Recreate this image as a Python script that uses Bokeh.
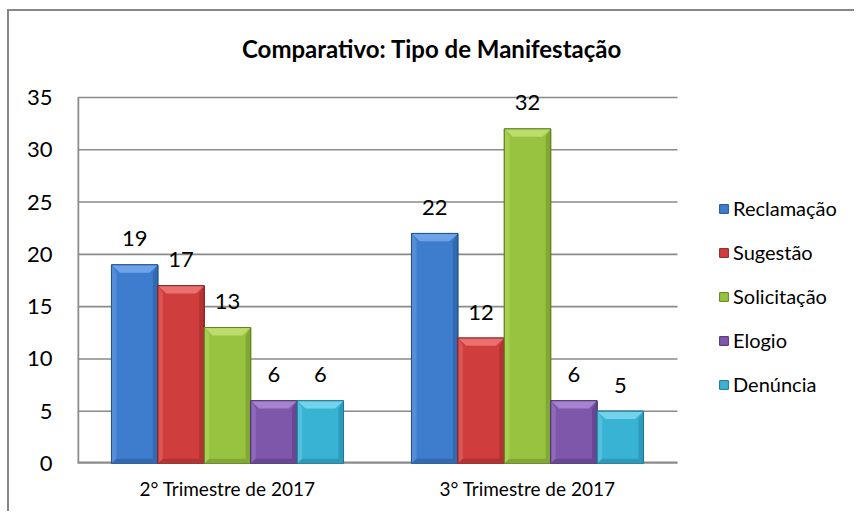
import numpy as np
from bokeh.plotting import figure
from bokeh.models import Range1d, Legend, LegendItem, FixedTicker, Label
from bokeh.core.properties import value
from bokeh.embed import file_html
from bokeh.resources import INLINE

# ---- data ----
categories = ["2° Trimestre de 2017", "3° Trimestre de 2017"]
series_names = ["Reclamação", "Sugestão", "Solicitação", "Elogio", "Denúncia"]
reclamacao = [19, 22]
sugestao = [17, 12]
solicitacao = [13, 32]
elogio = [6, 6]
denuncia = [6, 5]
y_ticks = [0, 5, 10, 15, 20, 25, 30, 35]
title_text = "Comparativo: Tipo de Manifestação"

series_values = [reclamacao, sugestao, solicitacao, elogio, denuncia]

# ---- styles ----
main_colors = ["#3e7dcd", "#d03d3d", "#98c340", "#7e56aa", "#39b3d4"]
light_colors = ["#6fa3e8", "#ea7070", "#bcdc6c", "#a583cf", "#74d3ec"]
dark_colors = ["#2b5d9f", "#a02b2b", "#72962a", "#5b3c83", "#2489a6"]
edge_colors = ["#24528d", "#8c2424", "#628223", "#4e3371", "#1f778f"]
FONT = "Lato"
GRID = "#8a8a8a"

W, H = 847, 502
LEFT, BOTTOM = 68, 50
PLOT_W, PLOT_H = 600, 366          # size of the drawing area for the categories / 0..35
frame_w, frame_h = W - LEFT, H - BOTTOM
n_cat = len(categories)
y_max = y_ticks[-1]
x_end = n_cat * frame_w / PLOT_W
y_end = y_max * frame_h / PLOT_H

p = figure(width=W, height=H,
           x_range=Range1d(0, x_end), y_range=Range1d(0, y_end),
           output_backend="svg", toolbar_location=None,
           min_border_left=LEFT, min_border_right=0,
           min_border_top=0, min_border_bottom=BOTTOM)
p.margin = (9, 0, 0, 7)
p.styles = {"border-top": "2px solid #878787", "border-left": "2px solid #878787"}
p.outline_line_color = None
p.background_fill_color = "white"
p.border_fill_color = "white"
p.xgrid.grid_line_color = None
p.ygrid.grid_line_color = None

# axes (library axes, lines drawn separately so they stop at the plot area)
p.yaxis.ticker = FixedTicker(ticks=y_ticks)
p.yaxis.major_tick_line_color = None
p.yaxis.minor_tick_line_color = None
p.yaxis.major_tick_out = 0
p.yaxis.major_tick_in = 0
p.yaxis.major_label_standoff = 25
p.yaxis.axis_line_color = None
p.yaxis.major_label_text_font = FONT
p.yaxis.major_label_text_font_size = "22px"
p.yaxis.major_label_text_color = "#000000"

cat_ticks = [i + 0.5 for i in range(n_cat)]
p.xaxis.ticker = FixedTicker(ticks=cat_ticks)
p.xaxis.major_label_overrides = {t: c for t, c in zip(cat_ticks, categories)}
p.xaxis.major_tick_line_color = None
p.xaxis.minor_tick_line_color = None
p.xaxis.major_tick_out = 0
p.xaxis.major_tick_in = 0
p.xaxis.major_label_standoff = 13
p.xaxis.axis_line_color = None
p.xaxis.major_label_text_font = FONT
p.xaxis.major_label_text_font_size = "19px"
p.xaxis.major_label_text_color = "#000000"

# gridlines (one per y tick) across the category area
p.segment(x0=[0] * len(y_ticks), y0=y_ticks, x1=[n_cat] * len(y_ticks), y1=y_ticks,
          line_color=GRID, line_width=1.6)
# baseline and vertical axis line
p.segment(x0=[0], y0=[0], x1=[n_cat], y1=[0], line_color=GRID, line_width=4)
p.segment(x0=[0], y0=[y_ticks[0]], x1=[0], y1=[y_max], line_color=GRID, line_width=3.5)

# bars
bw = 0.1547
bx = 0.028   # horizontal bevel (data units)
by = 0.75    # vertical bevel (data units)
legend_items = []
for k, (name, vals) in enumerate(zip(series_names, series_values)):
    xs = [i + 0.5 + (k - 2) * bw for i in range(n_cat)]
    r = p.vbar(x=xs, top=vals, bottom=0, width=bw,
               fill_color=main_colors[k], line_color=edge_colors[k], line_width=1)
    legend_items.append(LegendItem(label=name, renderers=[r]))
    tops_x, tops_y, lefts_x, lefts_y, rights_x, rights_y, bots_x, bots_y = [], [], [], [], [], [], [], []
    for xc, v in zip(xs, vals):
        x0, x1 = xc - bw / 2, xc + bw / 2
        tops_x.append([x0, x1, x1 - bx, x0 + bx])
        tops_y.append([v, v, v - by, v - by])
        lefts_x.append([x0, x0 + bx * 0.6, x0 + bx * 0.6, x0])
        lefts_y.append([v, v - by, by * 0.6, 0])
        rights_x.append([x1, x1 - bx * 0.6, x1 - bx * 0.6, x1])
        rights_y.append([v, v - by, by * 0.6, 0])
        bots_x.append([x0, x1, x1 - bx * 0.6, x0 + bx * 0.6])
        bots_y.append([0, 0, by * 0.6, by * 0.6])
    p.patches(lefts_x, lefts_y, fill_color=light_colors[k], fill_alpha=0.45, line_color=None)
    p.patches(rights_x, rights_y, fill_color=dark_colors[k], fill_alpha=0.6, line_color=None)
    p.patches(bots_x, bots_y, fill_color=dark_colors[k], fill_alpha=0.6, line_color=None)
    p.patches(tops_x, tops_y, fill_color=light_colors[k], fill_alpha=1.0, line_color=None)
    p.vbar(x=xs, top=vals, bottom=0, width=bw, fill_color=None,
           line_color=edge_colors[k], line_width=1)
    p.text(x=xs, y=vals, text=[str(v) for v in vals], y_offset=-26,
           text_align="center", text_baseline="middle",
           text_font=value(FONT), text_font_size="22px", text_color="#000000")

legend = Legend(items=legend_items, location=(641, 67), orientation="vertical",
                glyph_width=11, glyph_height=11, label_standoff=4,
                label_height=22, spacing=20, padding=0, margin=0,
                border_line_color=None, background_fill_alpha=0,
                label_text_font=FONT, label_text_font_size="20px",
                label_text_color="#000000")
p.add_layout(legend)

title = Label(x=354.5, y=415.5, x_units="screen", y_units="screen",
              text=title_text, text_align="center", text_baseline="middle",
              text_font=FONT, text_font_style="bold", text_font_size="24px",
              text_color="#000000")
p.add_layout(title)

open("out.html", "w").write(file_html(p, INLINE))
